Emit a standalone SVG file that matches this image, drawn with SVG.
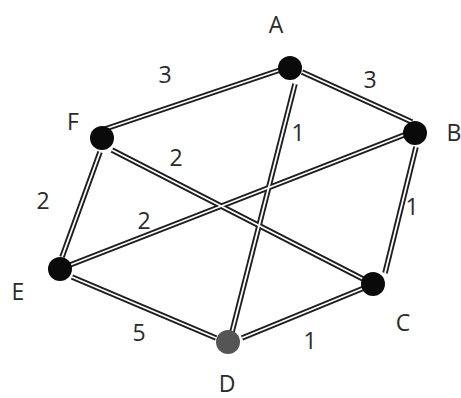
<svg xmlns="http://www.w3.org/2000/svg" width="461" height="398" viewBox="0 0 461 398">
<style>
.o{stroke:#1e1e1e;stroke-width:5.5;fill:none}
.i{stroke:#fff;stroke-width:1.8;fill:none}
.n{fill:#0a0a0a}
.t{font-family:"Open Sans","Liberation Sans",sans-serif;font-size:23px;fill:#2a2a2a;text-anchor:middle}
</style>
<g id="connectors">
<g class="o">
<line x1="102" y1="130" x2="280" y2="70"/>
<line x1="302" y1="72" x2="412" y2="122"/>
<line x1="295" y1="84" x2="232" y2="332"/>
<line x1="112" y1="150" x2="365" y2="280"/>
<line x1="100" y1="152" x2="62" y2="257"/>
<line x1="70" y1="265" x2="404" y2="135"/>
<line x1="416" y1="147" x2="385" y2="273"/>
<line x1="72" y1="277" x2="216" y2="338"/>
<line x1="242" y1="338" x2="364" y2="288"/>
</g>
<g class="i">
<line x1="102" y1="130" x2="280" y2="70"/>
<line x1="302" y1="72" x2="412" y2="122"/>
<line x1="295" y1="84" x2="232" y2="332"/>
<line x1="112" y1="150" x2="365" y2="280"/>
<line x1="100" y1="152" x2="62" y2="257"/>
<line x1="70" y1="265" x2="404" y2="135"/>
<line x1="416" y1="147" x2="385" y2="273"/>
<line x1="72" y1="277" x2="216" y2="338"/>
<line x1="242" y1="338" x2="364" y2="288"/>
</g>
<g class="t">
<text x="165" y="83">3</text>
<text x="370" y="88">3</text>
<text x="298" y="141">1</text>
<text x="176" y="166">2</text>
<text x="43" y="209">2</text>
<text x="144" y="229">2</text>
<text x="412" y="215">1</text>
<text x="139" y="341">5</text>
<text x="310" y="349">1</text>
</g>
</g>
<g id="A"><circle class="n" cx="290" cy="68" r="12"/><text class="t" x="276" y="33">A</text></g>
<g id="B"><circle class="n" cx="415" cy="133" r="12"/><text class="t" x="454" y="141">B</text></g>
<g id="C"><circle class="n" cx="373" cy="284" r="12"/><text class="t" x="403" y="331">C</text></g>
<g id="D"><circle cx="228" cy="342" r="12" fill="#555"/><text class="t" x="227" y="392">D</text></g>
<g id="E"><circle class="n" cx="60" cy="269" r="12"/><text class="t" x="18" y="300">E</text></g>
<g id="F"><circle class="n" cx="102" cy="138" r="12"/><text class="t" x="73" y="130">F</text></g>
</svg>
